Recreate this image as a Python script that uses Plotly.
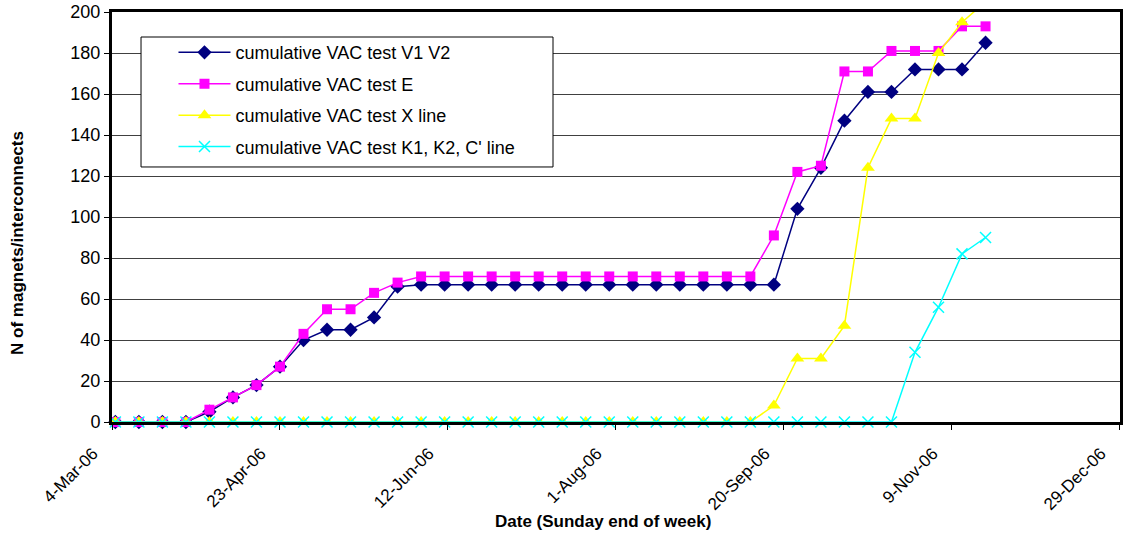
import plotly.graph_objects as go

dates = [
    "2006-03-05", "2006-03-12", "2006-03-19", "2006-03-26",
    "2006-04-02", "2006-04-09", "2006-04-16", "2006-04-23", "2006-04-30",
    "2006-05-07", "2006-05-14", "2006-05-21", "2006-05-28",
    "2006-06-04", "2006-06-11", "2006-06-18", "2006-06-25",
    "2006-07-02", "2006-07-09", "2006-07-16", "2006-07-23", "2006-07-30",
    "2006-08-06", "2006-08-13", "2006-08-20", "2006-08-27",
    "2006-09-03", "2006-09-10", "2006-09-17", "2006-09-24",
    "2006-10-01", "2006-10-08", "2006-10-15", "2006-10-22", "2006-10-29",
    "2006-11-05", "2006-11-12", "2006-11-19",
]

v1v2 = [0, 0, 0, 0, 5, 12, 18, 27, 40, 45, 45, 51, 66,
        67, 67, 67, 67, 67, 67, 67, 67, 67, 67, 67, 67, 67, 67, 67, 67,
        104, 124, 147, 161, 161, 172, 172, 172, 185]

e_line = [0, 0, 0, 0, 6, 12, 18, 27, 43, 55, 55, 63, 68,
          71, 71, 71, 71, 71, 71, 71, 71, 71, 71, 71, 71, 71, 71, 71,
          91, 122, 125, 171, 171, 181, 181, 181, 193, 193]

x_line = [0, 0, 0, 0, 0, 0, 0, 0, 0, 0, 0, 0, 0, 0, 0, 0, 0, 0, 0, 0,
          0, 0, 0, 0, 0, 0, 0, 0,
          8, 31, 31, 47, 124, 148, 148, 180, 195, 205]

k_line = [0, 0, 0, 0, 0, 0, 0, 0, 0, 0, 0, 0, 0, 0, 0, 0, 0, 0, 0, 0,
          0, 0, 0, 0, 0, 0, 0, 0, 0, 0, 0, 0, 0, 0,
          34, 56, 82, 90]

names = [
    "cumulative VAC test V1 V2",
    "cumulative VAC test E",
    "cumulative VAC test X line",
    "cumulative VAC test K1, K2, C' line",
]

FONT = "Liberation Sans, Arial, sans-serif"

fig = go.Figure()
fig.add_trace(go.Scatter(
    x=dates, y=v1v2, name=names[0], mode="lines+markers", legendgroup="a",
    cliponaxis=False,
    line=dict(color="#000080", width=1.5),
    marker=dict(symbol="diamond", size=11, color="#000080")))
fig.add_trace(go.Scatter(
    x=dates, y=e_line, name=names[1], mode="lines+markers", legendgroup="b",
    cliponaxis=False,
    line=dict(color="#FF00FF", width=1.5),
    marker=dict(symbol="square", size=10, color="#FF00FF")))
fig.add_trace(go.Scatter(
    x=dates, y=x_line, name=names[2], mode="lines+markers", legendgroup="c",
    cliponaxis=False,
    line=dict(color="#FFFF00", width=1.5),
    marker=dict(symbol="triangle-up", size=12, color="#FFFF00")))
fig.add_trace(go.Scatter(
    x=dates, y=k_line, name=names[3], mode="lines+markers", legendgroup="d",
    cliponaxis=False,
    line=dict(color="#00FFFF", width=1.5),
    marker=dict(symbol="x-thin", size=11, color="#00FFFF",
                line=dict(color="#00FFFF", width=1.5))))

fig.update_layout(
    template="none",
    width=1123, height=539,
    margin=dict(l=112, r=3, t=12, b=117, pad=0),
    paper_bgcolor="white", plot_bgcolor="white",
    font=dict(family=FONT, size=17, color="black"),
    showlegend=True,
    legend=dict(
        x=0.061, y=0.946, xanchor="left", yanchor="top",
        bgcolor="rgba(0,0,0,0)", borderwidth=0,
        font=dict(family=FONT, size=18, color="black"),
        tracegroupgap=5, itemwidth=52,
    ),
    shapes=[dict(
        type="rect", xref="paper", yref="paper",
        x0=0.0288, x1=0.4375, y0=0.622, y1=0.939,
        line=dict(color="black", width=1), fillcolor="white", layer="above",
    )],
    annotations=[
        dict(text="<b>N of magnets/interconnects</b>", xref="paper", yref="paper",
             x=-0.0933, y=0.4366, xanchor="center", yanchor="middle",
             textangle=-90, showarrow=False,
             font=dict(family=FONT, size=17, color="black")),
        dict(text="<b>Date (Sunday end of week)</b>", xref="paper", yref="paper",
             x=0.487, y=-0.2439, xanchor="center", yanchor="middle",
             showarrow=False,
             font=dict(family=FONT, size=17, color="black")),
    ],
)

fig.update_xaxes(
    type="date", automargin=False,
    range=["2006-03-04", "2006-12-29 00:30"],
    tick0="2006-03-04", dtick=50 * 86400000,
    tickformat="%-d-%b-%y", tickangle=-45,
    ticklabeloverflow="allow", ticklabelshift=-19, ticklabelstandoff=7,
    ticks="outside", ticklen=5, tickcolor="black", tickwidth=1,
    showgrid=False, zeroline=False,
    showline=True, linecolor="black", linewidth=3, mirror=True,
    tickfont=dict(family=FONT, size=17, color="black"),
)
fig.update_yaxes(
    automargin=False,
    range=[0, 200], dtick=20,
    ticks="outside", ticklen=5, tickcolor="black", tickwidth=1,
    showgrid=True, gridcolor="#404040", gridwidth=1,
    zeroline=False,
    showline=True, linecolor="black", linewidth=3, mirror=True,
    tickfont=dict(family=FONT, size=18, color="black"),
)

fig.write_html("out.html",
               config={"displayModeBar": False},
               post_script="document.body.style.margin='0';document.body.style.overflow='hidden';")
